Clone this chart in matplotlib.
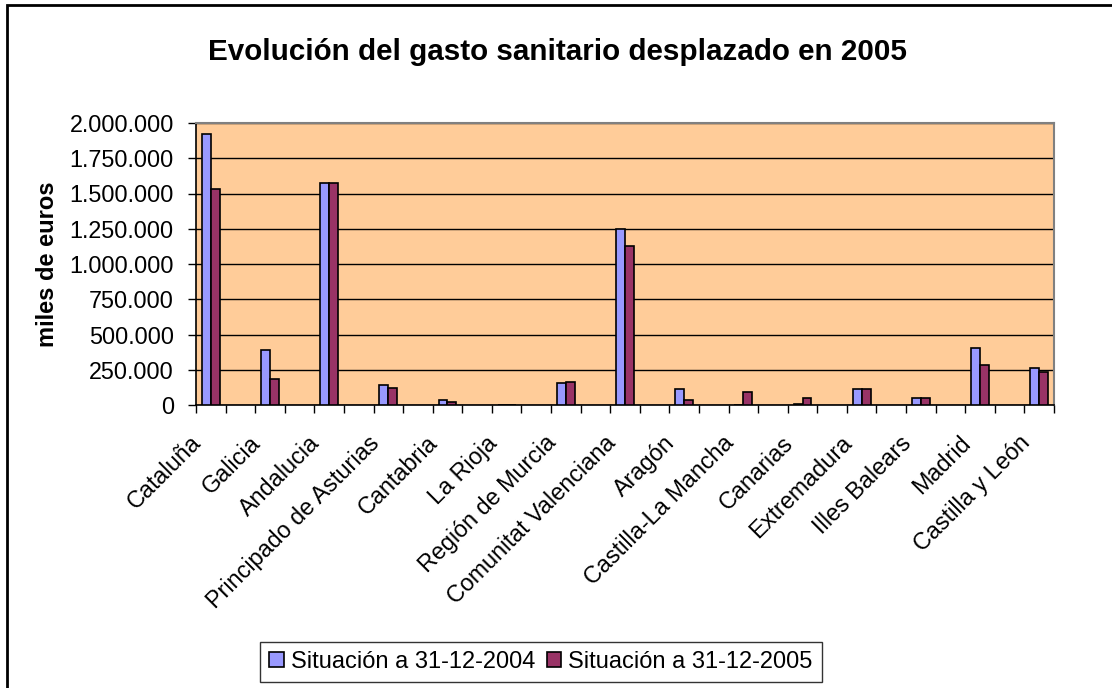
import matplotlib.pyplot as plt
import matplotlib.transforms as mtransforms
import numpy as np
from matplotlib.patches import Rectangle
from matplotlib.ticker import FuncFormatter, FixedLocator

plt.rcParams['font.family'] = ['Liberation Sans', 'DejaVu Sans']

regiones = ['Cataluña', 'Galicia', 'Andalucia', 'Principado de Asturias', 'Cantabria',
            'La Rioja', 'Región de Murcia', 'Comunitat Valenciana', 'Aragón',
            'Castilla-La Mancha', 'Canarias', 'Extremadura', 'Illes Balears',
            'Madrid', 'Castilla y León']
sit_2004 = [1922000, 390000, 1571000, 142000, 38000, 0, 154000, 1247000, 116000,
            0, 8000, 116000, 52000, 402000, 260000]
sit_2005 = [1531000, 182000, 1571000, 118000, 24000, 0, 166000, 1131000, 38000,
            90000, 52000, 116000, 52000, 284000, 232000]

fig = plt.figure(figsize=(11.12, 6.88), dpi=100)
ax = fig.add_axes([196 / 1112, 1 - 405 / 688, 858 / 1112, 282 / 688])
ax.set_facecolor('#FFCC99')

# data sits on every other slot (blank rows in between)
x = np.arange(len(regiones)) * 2
w = 0.30
ax.bar(x - w / 2, sit_2004, w, color='#9999FF', edgecolor='black', linewidth=1.2,
       label='Situación a 31-12-2004', zorder=3)
ax.bar(x + w / 2, sit_2005, w, color='#993366', edgecolor='black', linewidth=1.2,
       label='Situación a 31-12-2005', zorder=3)

ax.set_xlim(-0.5, x[-1] + 0.5)
ax.set_ylim(0, 2000000)
ax.set_yticks(np.arange(0, 2000001, 250000))
ax.yaxis.set_major_formatter(FuncFormatter(lambda v, p: f'{int(v):,}'.replace(',', '.')))
ax.yaxis.grid(True, color='black', linewidth=1, zorder=0)

ax.xaxis.set_major_locator(FixedLocator(x))
ax.set_xticklabels(regiones, rotation=45, ha='right', rotation_mode='anchor')
ax.xaxis.set_minor_locator(FixedLocator(np.arange(-0.5, x[-1] + 1, 1)))
ax.tick_params(axis='x', which='major', length=0, pad=19, labelsize=16.8)
ax.tick_params(axis='x', which='minor', length=6, width=1, direction='out')
ax.tick_params(axis='y', length=6, width=1, direction='out', labelsize=16.8, pad=10)
shift = mtransforms.ScaledTranslation(-0.21, 0, fig.dpi_scale_trans)
for lab in ax.get_xticklabels():
    lab.set_transform(lab.get_transform() + shift)

for s in ['top', 'right']:
    ax.spines[s].set_color('#808080')
    ax.spines[s].set_linewidth(1.5)
for s in ['left', 'bottom']:
    ax.spines[s].set_color('black')
    ax.spines[s].set_linewidth(1.2)

ax.set_ylabel('miles de euros', fontsize=17, fontweight='bold')
ax.yaxis.set_label_coords((59 - 196) / 858, 0.5)
fig.text(557 / 1112, 1 - 52 / 688, 'Evolución del gasto sanitario desplazado en 2005',
         ha='center', va='center', fontsize=21.3, fontweight='bold')

leg = fig.legend(loc='center', bbox_to_anchor=(541 / 1112, 1 - 662 / 688), ncol=2,
                 fontsize=17, frameon=True, fancybox=False, handlelength=0.6,
                 handleheight=0.6, handletextpad=0.3, columnspacing=0.5,
                 borderpad=0.4, borderaxespad=0)
leg.get_frame().set_edgecolor('black')
leg.get_frame().set_linewidth(1)

# outer chart frame, right and bottom edges fall outside the image
fig.patches.append(Rectangle((7 / 1112, -0.05), 1.2, 1 - 5 / 688 + 0.05,
                             transform=fig.transFigure, fill=False,
                             edgecolor='black', linewidth=2))

plt.savefig('out.png')
